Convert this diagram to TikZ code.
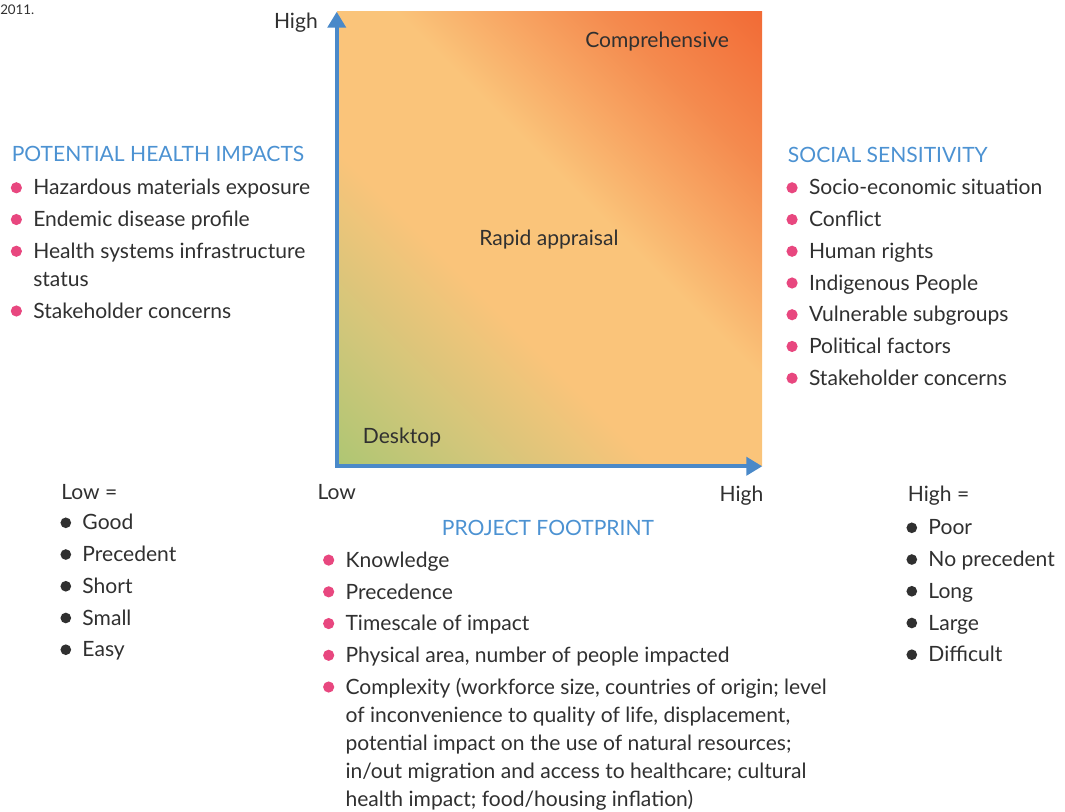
\documentclass[tikz,border=0pt]{standalone}
\usepackage{fontspec}
\setmainfont{Lato}
\usetikzlibrary{
  arrows.meta,
  positioning,
}
\definecolor{axisblue}{HTML}{4A89C9}
\definecolor{headblue}{HTML}{4C92D2}
\definecolor{dotpink}{HTML}{E8477F}
\definecolor{ink}{HTML}{303030}
\definecolor{qgreen}{HTML}{AEC673}
\definecolor{qolive}{HTML}{D0C67A}
\definecolor{qlight}{HTML}{FAC47A}
\definecolor{qpeach}{HTML}{F8A865}
\definecolor{qorange}{HTML}{F48A4E}
\definecolor{qdeep}{HTML}{F26B36}
\pgfdeclarehorizontalshading{quadrant}{100bp}{
  color(0bp)=(qgreen); color(14.6bp)=(qgreen); color(26bp)=(qolive);
  color(40bp)=(qlight); color(56bp)=(qlight); color(64bp)=(qpeach);
  color(73bp)=(qorange); color(85.4bp)=(qdeep); color(100bp)=(qdeep)}
\newcommand{\pinkdot}{\tikz[baseline=0pt]\fill[dotpink] (4.2pt,5.4pt) circle[radius=4.2pt];}
\newcommand{\blackdot}{\tikz[baseline=0pt]\fill[ink] (4.2pt,5.4pt) circle[radius=4pt];}
\newcommand{\itemgap}{2.8pt}
\tikzset{
  zone/.style={
    rectangle,
    minimum width=318.75pt,
    minimum height=340.5pt,
    inner sep=0pt,
    shade,
    shading=quadrant,
    shading angle=45,
  },
  axis/.style={
    line width=3pt,
    draw=axisblue,
    {Triangle[length=12pt,width=13.5pt]}-{Triangle[length=12pt,width=13.5pt]},
  },
  txt/.style={
    anchor=base west,
    inner sep=0pt,
    text=ink,
    font=\fontsize{15.8}{21}\selectfont,
  },
  heading/.style={
    txt,
    text=headblue,
  },
  itemlist/.style={
    txt,
  },
}

\begin{document}
\begin{tikzpicture}[x=0.75pt, y=-0.75pt]
  \useasboundingbox (0,0) rectangle (1065,812);

  % Source note
  \node (year) [txt, font=\fontsize{10}{12}\selectfont] at (0,15) {2011.};

  % Quadrant
  \node (grid) [zone] at (549.5,239) {};
  \draw [axis] (grid.north west) -- (grid.south west) -- (grid.south east);

  % Approaches
  \node (comp) [txt] at (585,48) {Comprehensive};
  \node (rapid) [txt] at (479,246) {Rapid appraisal};
  \node (desk) [txt] at (362.7,444) {Desktop};

  % Axis ends
  \node (yhigh) [txt, anchor=base east] at (318,28.3) {High};
  \node (xlow) [txt] at (317.3,500) {Low};
  \node (xhigh) [txt] at (719.3,501.7) {High};

  % Potential health impacts
  \node (health) [heading] at (11.5,162) {POTENTIAL HEALTH IMPACTS};
  \node (healthlist) [itemlist] at (10.5,195) {\begin{tabular}[t]{@{}l@{\hspace{8.5pt}}l@{}}
    \pinkdot & Hazardous materials exposure\\[\itemgap]
    \pinkdot & Endemic disease profile\\[\itemgap]
    \pinkdot & Health systems infrastructure\\
             & status\\[\itemgap]
    \pinkdot & Stakeholder concerns
  \end{tabular}};

  % Social sensitivity
  \node (social) [heading] at (787.7,162.7) {SOCIAL SENSITIVITY};
  \node (sociallist) [itemlist] at (786.2,195) {\begin{tabular}[t]{@{}l@{\hspace{8.5pt}}l@{}}
    \pinkdot & Socio-economic situation\\[\itemgap]
    \pinkdot & Conflict\\[\itemgap]
    \pinkdot & Human rights\\[\itemgap]
    \pinkdot & Indigenous People\\[\itemgap]
    \pinkdot & Vulnerable subgroups\\[\itemgap]
    \pinkdot & Political factors\\[\itemgap]
    \pinkdot & Stakeholder concerns
  \end{tabular}};

  % Project footprint
  \node (foot) [heading] at (441.7,536) {PROJECT FOOTPRINT};
  \node (footlist) [itemlist] at (322.8,567.3) {\begin{tabular}[t]{@{}l@{\hspace{8.5pt}}l@{}}
    \pinkdot & Knowledge\\[\itemgap]
    \pinkdot & Precedence\\[\itemgap]
    \pinkdot & Timescale of impact\\[\itemgap]
    \pinkdot & Physical area, number of people impacted\\[\itemgap]
    \pinkdot & Complexity (workforce size, countries of origin; level\\
             & of inconvenience to quality of life, displacement,\\
             & potential impact on the use of natural resources;\\
             & in/out migration and access to healthcare; cultural\\
             & health impact; food/housing inflation)
  \end{tabular}};

  % Low and high keys
  \node (lowkey) [txt] at (61,500) {Low =};
  \node (lowlist) [itemlist] at (60.2,530) {\begin{tabular}[t]{@{}l@{\hspace{8.5pt}}l@{}}
    \blackdot & Good\\[\itemgap]
    \blackdot & Precedent\\[\itemgap]
    \blackdot & Short\\[\itemgap]
    \blackdot & Small\\[\itemgap]
    \blackdot & Easy
  \end{tabular}};
  \node (highkey) [txt] at (907.7,501.7) {High =};
  \node (highlist) [itemlist] at (906.2,535) {\begin{tabular}[t]{@{}l@{\hspace{8.5pt}}l@{}}
    \blackdot & Poor\\[\itemgap]
    \blackdot & No precedent\\[\itemgap]
    \blackdot & Long\\[\itemgap]
    \blackdot & Large\\[\itemgap]
    \blackdot & Difficult
  \end{tabular}};

\end{tikzpicture}
\end{document}
